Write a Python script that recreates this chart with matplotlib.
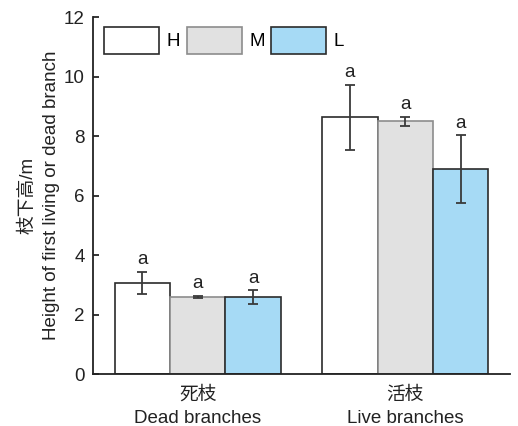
import numpy as np
import matplotlib.pyplot as plt

plt.rcParams['font.family'] = ['Liberation Sans', 'Noto Sans CJK SC']

# data
groups = ["死枝\nDead branches", "活枝\nLive branches"]
levels = ["H", "M", "L"]
means = {
    "H": [3.06, 8.63],
    "M": [2.60, 8.49],
    "L": [2.58, 6.88],
}
errs = {
    "H": [0.37, 1.09],
    "M": [0.03, 0.15],
    "L": [0.23, 1.14],
}
letters = {
    "H": ["a", "a"],
    "M": ["a", "a"],
    "L": ["a", "a"],
}

faces = {"H": "#ffffff", "M": "#e1e1e1", "L": "#a6daf5"}
edges = {"H": "#2b2b2b", "M": "#8c8c8c", "L": "#2b2b2b"}
fs = 13.5

fig, ax = plt.subplots(figsize=(5.18, 4.26), dpi=100)
fig.subplots_adjust(left=0.18, right=0.985, bottom=0.122, top=0.96)

x = np.arange(len(groups))
w = 0.267
for i, lv in enumerate(levels):
    pos = x + (i - 1) * w
    ax.bar(pos, means[lv], width=w, color=faces[lv], edgecolor=edges[lv],
           linewidth=1.2, label=lv, zorder=2)
    ax.errorbar(pos, means[lv], yerr=errs[lv], fmt='none', ecolor='#3a3a3a',
                elinewidth=1.3, capsize=3.5, capthick=1.3, zorder=3)
    for p, m, e, t in zip(pos, means[lv], errs[lv], letters[lv]):
        ax.text(p, m + e + 0.12, t, ha='center', va='bottom', fontsize=fs,
                color='#222222')

ax.set_xlim(-0.504, 1.506)
ax.set_ylim(0, 12)
ax.set_yticks(np.arange(0, 13, 2))
ax.set_xticks(x)
ax.set_xticklabels(groups, fontsize=fs, linespacing=1.45, color='#222222')
ax.tick_params(axis='x', length=0, pad=9)
ax.tick_params(axis='y', direction='in', length=4, width=1.1, labelsize=fs,
               pad=6, labelcolor='#222222')
for s in ['top', 'right']:
    ax.spines[s].set_visible(False)
for s in ['left', 'bottom']:
    ax.spines[s].set_linewidth(1.3)
    ax.spines[s].set_color('#222222')

ax.set_ylabel("枝下高/m\nHeight of first living or dead branch", fontsize=fs,
              linespacing=1.45, labelpad=3, color='#222222')

ax.legend(loc='upper left', ncol=3, frameon=False, fontsize=fs,
          handlelength=2.93, handleheight=1.85, handletextpad=0.4,
          columnspacing=0.35, bbox_to_anchor=(-0.005, 1.01), borderaxespad=0.3)

fig.savefig("out.png", dpi=100)
